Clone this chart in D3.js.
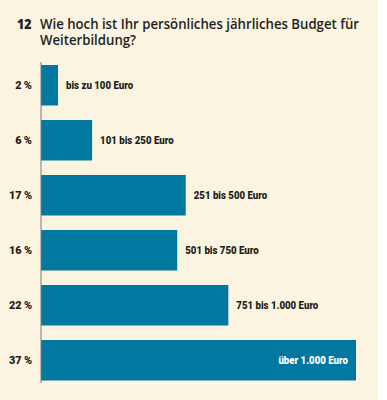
<!DOCTYPE html>
<html>
<head>
<meta charset="utf-8">
<script src="https://cdn.jsdelivr.net/npm/d3@7"></script>
<style>
  body { margin: 0; background: #fff; }
  svg { display: block; }
</style>
</head>
<body>
<div id="chart"></div>
<script>
var categories = ["bis zu 100 Euro", "101 bis 250 Euro", "251 bis 500 Euro", "501 bis 750 Euro", "751 bis 1.000 Euro", "über 1.000 Euro"];
var values = [2, 6, 17, 16, 22, 37];
var pctLabels = ["2\u2009%", "6\u2009%", "17\u2009%", "16\u2009%", "22\u2009%", "37\u2009%"];

(function () {
    var width = 387,
        height = 400;

    var svg = d3.select("#chart")
        .append("svg")
        .attr("width", width)
        .attr("height", height);

    svg.append("rect")
        .attr("x", 0).attr("y", 0)
        .attr("width", 378).attr("height", height)
        .attr("fill", "#fbf4e0");

    // squeeze text to look like a condensed font
    function squeeze(sel, k) {
        sel.each(function () {
            var w = this.getComputedTextLength();
            d3.select(this).attr("textLength", w * k).attr("lengthAdjust", "spacingAndGlyphs");
        });
    }

    // title
    var title = svg.append("g")
        .attr("font-family", "'Open Sans', sans-serif")
        .attr("font-weight", 600)
        .attr("fill", "#231f20");
    var num = title.append("text").attr("x", 17).attr("y", 28.5)
        .attr("font-size", 13.5).attr("font-weight", 800).text("12");
    var t1 = title.append("text").attr("x", 40).attr("y", 28.5)
        .attr("font-size", 13.5).text("Wie hoch ist Ihr persönliches jährliches Budget für");
    var t2 = title.append("text").attr("x", 40).attr("y", 45)
        .attr("font-size", 13.5).text("Weiterbildung?");
    var kt = 319 / t1.node().getComputedTextLength();
    squeeze(num, 14.5 / num.node().getComputedTextLength());
    squeeze(t1, kt);
    squeeze(t2, kt);

    var x = d3.scaleLinear().domain([0, 37]).range([41, 356]);
    var y = d3.scaleBand().domain(d3.range(values.length)).range([65, 380.5]).paddingInner(0.264).paddingOuter(0);

    var rows = svg.selectAll(".row")
        .data(values)
        .enter().append("g")
        .attr("class", "row");

    rows.append("rect")
        .attr("x", x(0))
        .attr("y", function (d, i) { return y(i); })
        .attr("width", function (d) { return x(d) - x(0); })
        .attr("height", y.bandwidth())
        .attr("fill", "#00789f");

    var labelFont = "'Roboto', sans-serif";

    var pct = rows.append("text")
        .attr("x", 32)
        .attr("y", function (d, i) { return y(i) + y.bandwidth() / 2 + 4; })
        .attr("text-anchor", "end")
        .attr("font-family", labelFont)
        .attr("font-weight", 900)
        .attr("font-size", 11.5)
        .attr("fill", "#231f20")
        .text(function (d, i) { return pctLabels[i]; });

    var cat = rows.append("text")
        .attr("x", function (d, i) { return i === values.length - 1 ? x(d) - 8 : x(d) + 8; })
        .attr("y", function (d, i) { return y(i) + y.bandwidth() / 2 + 4; })
        .attr("text-anchor", function (d, i) { return i === values.length - 1 ? "end" : "start"; })
        .attr("font-family", labelFont)
        .attr("font-weight", 900)
        .attr("font-size", 11.5)
        .attr("fill", function (d, i) { return i === values.length - 1 ? "#fff" : "#231f20"; })
        .text(function (d, i) { return categories[i]; });

    var kc = 82 / cat.filter(function (d, i) { return i === 4; }).node().getComputedTextLength();
    squeeze(cat, kc);
    var kp = 23 / pct.filter(function (d, i) { return i === 4; }).node().getComputedTextLength();
    squeeze(pct, kp);

    svg.append("line")
        .attr("x1", x(0)).attr("x2", x(0))
        .attr("y1", 62).attr("y2", 383)
        .attr("stroke", "#7a7a7a")
        .attr("stroke-width", 1);
})();
</script>
</body>
</html>
